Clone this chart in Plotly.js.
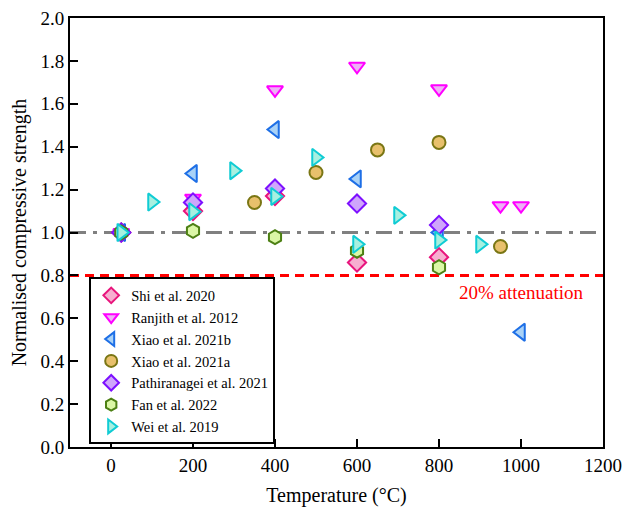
<!DOCTYPE html>
<html>
<head>
<meta charset="utf-8">
<script src="https://cdn.plot.ly/plotly-3.0.1.min.js"></script>
<style>html,body{margin:0;padding:0;background:#fff;}#chart{width:626px;height:507px;}</style>
</head>
<body>
<div id="chart"></div>
<script>
// Data
const seriesNames = ["Shi et al. 2020","Ranjith et al. 2012","Xiao et al. 2021b","Xiao et al. 2021a","Pathiranagei et al. 2021","Fan et al. 2022","Wei et al. 2019"];

const shiT = [25, 200, 400, 600, 800];
const shiV = [1.0, 1.10, 1.17, 0.86, 0.885];

const ranjithT = [25, 200, 400, 600, 800, 950, 1000];
const ranjithV = [1.0, 1.16, 1.665, 1.775, 1.67, 1.125, 1.125];

const xiaoBT = [25, 200, 400, 600, 800, 1000];
const xiaoBV = [1.0, 1.275, 1.48, 1.25, 1.0, 0.535];

const xiaoAT = [350, 500, 650, 800, 950];
const xiaoAV = [1.14, 1.28, 1.385, 1.42, 0.935];

const pathT = [25, 200, 400, 600, 800];
const pathV = [1.0, 1.14, 1.205, 1.135, 1.035];

const fanT = [25, 200, 400, 600, 800];
const fanV = [1.0, 1.008, 0.978, 0.915, 0.838];

const weiT = [25, 100, 200, 300, 400, 500, 600, 700, 800, 900];
const weiV = [1.0, 1.142, 1.097, 1.288, 1.168, 1.35, 0.945, 1.08, 0.965, 0.945];

const referenceLevel = 1.0;
const attenuationLevel = 0.8;
const attenuationLabel = "20% attenuation";

const xTicks = [0, 200, 400, 600, 800, 1000, 1200];
const yTicks = [0.0, 0.2, 0.4, 0.6, 0.8, 1.0, 1.2, 1.4, 1.6, 1.8, 2.0];

// Styles
const styles = [
  {symbol: "diamond", fill: "#f7aed0", line: "#e8147c"},
  {symbol: "triangle-down", fill: "#eeb0f6", line: "#ff00ff"},
  {symbol: "triangle-left", fill: "#a9d2f7", line: "#1e6fe6"},
  {symbol: "circle", fill: "#e8c06c", line: "#7a7614"},
  {symbol: "diamond", fill: "#cfa6fb", line: "#7d10ff"},
  {symbol: "hexagon", fill: "#dbf7a6", line: "#4d8014"},
  {symbol: "triangle-right", fill: "#a8f0e0", line: "#10ccd4"}
];
const xs = [shiT, ranjithT, xiaoBT, xiaoAT, pathT, fanT, weiT];
const ys = [shiV, ranjithV, xiaoBV, xiaoAV, pathV, fanV, weiV];
const sizes = [14, 14, 15, 13, 14, 14, 15];

const traces = seriesNames.map((n, i) => ({
  type: "scatter", mode: "markers", name: n,
  x: xs[i], y: ys[i],
  marker: {symbol: styles[i].symbol, size: sizes[i], color: styles[i].fill,
           line: {color: styles[i].line, width: 2}},
  cliponaxis: false
}));

const font = "Liberation Serif, Times New Roman, serif";

const layout = {
  width: 626, height: 507,
  margin: {l: 70, r: 23, t: 18, b: 60},
  paper_bgcolor: "#fff", plot_bgcolor: "#fff",
  font: {family: font, size: 19, color: "#000"},
  showlegend: true,
  legend: {
    x: 0.036, y: 0.006, xanchor: "left", yanchor: "bottom",
    bgcolor: "#fff", bordercolor: "#000", borderwidth: 2,
    font: {family: font, size: 14.5, color: "#000"},
    tracegroupgap: 0, itemsizing: "constant"
  },
  xaxis: {
    range: [-100, 1200], tickvals: xTicks, ticktext: xTicks.map(String),
    ticks: "inside", ticklen: 8, tickwidth: 2, tickcolor: "#000",
    showline: true, linewidth: 2, linecolor: "#000", mirror: true,
    showgrid: false, zeroline: false,
    tickfont: {family: font, size: 19},
    title: {text: "Temperature (°C)", font: {family: font, size: 20}, standoff: 14}
  },
  yaxis: {
    range: [0, 2.0], tickvals: yTicks, ticktext: yTicks.map(v => v.toFixed(1)),
    ticks: "inside", ticklen: 8, tickwidth: 2, tickcolor: "#000",
    showline: true, linewidth: 2, linecolor: "#000", mirror: true,
    showgrid: false, zeroline: false,
    tickfont: {family: font, size: 19},
    title: {text: "Normalised compressive strength", font: {family: font, size: 20}, standoff: 8}
  },
  shapes: [
    {type: "line", xref: "paper", x0: 0, x1: 1, yref: "y", y0: referenceLevel, y1: referenceLevel,
     line: {color: "#808080", width: 3, dash: "16px,7px,4px,7px"}, layer: "below"},
    {type: "line", xref: "paper", x0: 0, x1: 1, yref: "y", y0: attenuationLevel, y1: attenuationLevel,
     line: {color: "#ff0000", width: 3, dash: "9px,6px"}, layer: "below"}
  ],
  annotations: [
    {x: 1000, y: 0.72, xref: "x", yref: "y", text: attenuationLabel, showarrow: false,
     font: {family: font, size: 19, color: "#ff0000"}}
  ]
};

Plotly.newPlot("chart", traces, layout, {displayModeBar: false, staticPlot: true});
</script>
</body>
</html>
